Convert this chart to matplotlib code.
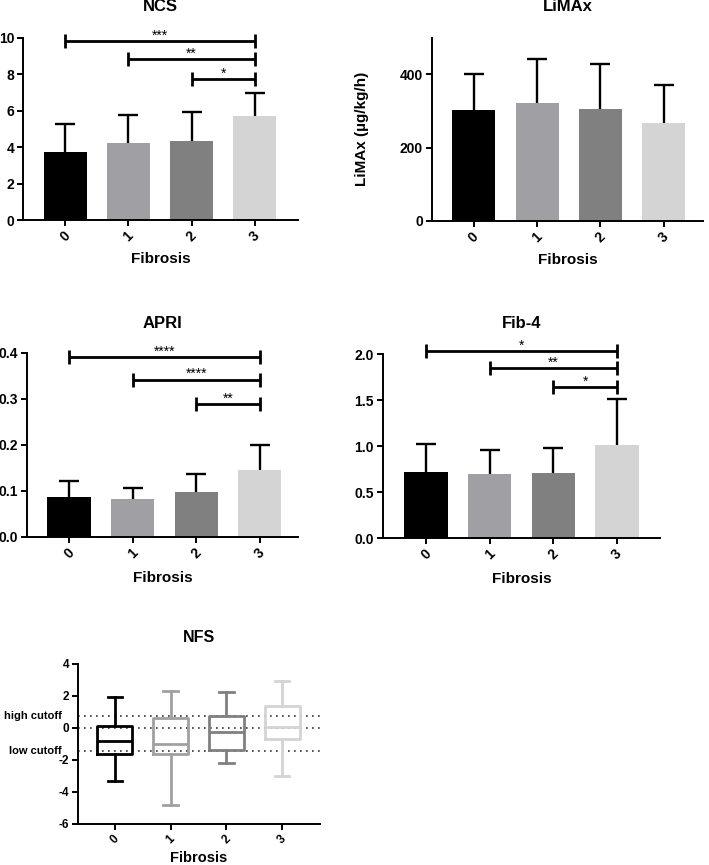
import matplotlib
matplotlib.use("Agg")
import matplotlib.pyplot as plt
import matplotlib.transforms as mtransforms
from matplotlib.ticker import FormatStrFormatter

plt.rcParams['font.family'] = ['Liberation Sans', 'DejaVu Sans']
plt.rcParams['font.weight'] = 'bold'
plt.rcParams['axes.unicode_minus'] = False

# ---------------- data ----------------
groups = ["0", "1", "2", "3"]
colors = ["#000000", "#A0A0A4", "#808080", "#D4D4D4"]

ncs_mean = [3.75, 4.24, 4.35, 5.72]
ncs_sd = [1.52, 1.52, 1.55, 1.23]
ncs_sig = [(0, 3, 9.82, "***"), (1, 3, 8.81, "**"), (2, 3, 7.73, "*")]

limax_mean = [304, 323, 305, 268]
limax_sd = [97, 118, 124, 104]

apri_mean = [0.088, 0.083, 0.097, 0.146]
apri_sd = [0.033, 0.023, 0.041, 0.055]
apri_sig = [(0, 3, 0.391, "****"), (1, 3, 0.342, "****"), (2, 3, 0.289, "**")]

fib4_mean = [0.714, 0.692, 0.707, 1.011]
fib4_sd = [0.304, 0.268, 0.268, 0.499]
fib4_sig = [(0, 3, 2.03, "*"), (1, 3, 1.844, "**"), (2, 3, 1.638, "*")]

nfs_whislo = [-3.34, -4.79, -2.16, -2.99]
nfs_q1 = [-1.62, -1.62, -1.37, -0.70]
nfs_med = [-0.81, -1.00, -0.25, 0.08]
nfs_q3 = [0.12, 0.60, 0.77, 1.37]
nfs_whishi = [1.95, 2.30, 2.26, 2.95]
nfs_high_cutoff = 0.72
nfs_low_cutoff = -1.46

W, H = 709, 865
fig = plt.figure(figsize=(W / 100, H / 100), dpi=100)


def add_ax(l, r, t, b):
    return fig.add_axes([l / W, 1 - b / H, (r - l) / W, (b - t) / H])


def style(ax, title, xlim, title_pad, tsize=10, title_size=12):
    ax.spines['top'].set_visible(False)
    ax.spines['right'].set_visible(False)
    for s in ('left', 'bottom'):
        ax.spines[s].set_linewidth(1.4)
    ax.tick_params(width=1.4, length=4, labelsize=tsize, direction='out', pad=2.5)
    ax.set_xlim(*xlim)
    ax.set_xticks(range(len(groups)))
    ax.set_xticklabels(groups, rotation=45, ha='center', fontweight='bold')
    for lab in ax.get_yticklabels():
        lab.set_fontweight('bold')
    ax.set_title(title, fontsize=title_size, fontweight='bold', pad=title_pad)


def xlabel(ax, offset_px, height_px, size=11):
    ax.set_xlabel("Fibrosis", fontsize=size, fontweight='bold')
    ax.xaxis.set_label_coords(0.5, -offset_px / height_px)


def bars(ax, means, sds, capsize=7.5):
    x = list(range(len(means)))
    _, caplines, _ = ax.errorbar(x, means, yerr=[[0] * len(sds), sds], fmt='none',
                                 ecolor='black', elinewidth=1.7, capsize=capsize,
                                 capthick=1.7, zorder=1)
    if len(caplines) == 2:
        caplines[0].set_visible(False)
    ax.bar(x, means, width=0.68, color=colors, zorder=2)


def brackets(ax, sigs, tick_px, axes_h_px):
    y0, y1 = ax.get_ylim()
    dy = tick_px * (y1 - y0) / axes_h_px
    for a, b, y, txt in sigs:
        ax.plot([a, b], [y, y], color='black', lw=2.0, clip_on=False,
                solid_capstyle='butt', zorder=3)
        for xx in (a, b):
            ax.plot([xx, xx], [y - dy, y + dy], color='black', lw=2.0,
                    clip_on=False, solid_capstyle='butt', zorder=3)
        ax.text((a + b) / 2, y - dy * 0.2, txt, ha='center', va='bottom',
                fontsize=10, fontweight='normal', clip_on=False)


# ---------------- NCS ----------------
ax = add_ax(23.5, 298, 37.7, 220)
bars(ax, ncs_mean, ncs_sd)
ax.set_ylim(0, 10)
ax.set_yticks([0, 2, 4, 6, 8, 10])
style(ax, "NCS", (-0.656, 3.68), 19)
brackets(ax, ncs_sig, 7, 182)
xlabel(ax, 32, 182)

# ---------------- LiMAx ----------------
ax = add_ax(432, 703, 37.7, 221)
bars(ax, limax_mean, limax_sd)
ax.set_ylim(0, 500)
ax.set_yticks([0, 200, 400])
style(ax, "LiMAx", (-0.66, 3.62), 19)
ax.set_ylabel("LiMAx (µg/kg/h)", fontsize=11, fontweight='bold')
ax.yaxis.set_label_coords(-63 / 271, 0.5)
xlabel(ax, 32, 183)

# ---------------- APRI ----------------
ax = add_ax(27, 298, 353, 537)
bars(ax, apri_mean, apri_sd)
ax.set_ylim(0, 0.4)
ax.set_yticks([0, 0.1, 0.2, 0.3, 0.4])
ax.yaxis.set_major_formatter(FormatStrFormatter('%.1f'))
style(ax, "APRI", (-0.66, 3.6), 18)
brackets(ax, apri_sig, 7, 184)
xlabel(ax, 34, 184)

# ---------------- Fib-4 ----------------
ax = add_ax(383, 660, 354, 538)
bars(ax, fib4_mean, fib4_sd)
ax.set_ylim(0, 2.0)
ax.set_yticks([0, 0.5, 1.0, 1.5, 2.0])
ax.yaxis.set_major_formatter(FormatStrFormatter('%.1f'))
style(ax, "Fib-4", (-0.675, 3.675), 19)
brackets(ax, fib4_sig, 7, 184)
xlabel(ax, 34, 184)

# ---------------- NFS ----------------
ax = add_ax(78, 320, 664, 824)
stats = []
for i in range(len(groups)):
    stats.append(dict(whislo=nfs_whislo[i], q1=nfs_q1[i], med=nfs_med[i],
                      q3=nfs_q3[i], whishi=nfs_whishi[i], fliers=[]))
artists = ax.bxp(stats, positions=range(len(groups)), widths=0.63,
                 showfliers=False, patch_artist=False, manage_ticks=False)
for i, c in enumerate(colors):
    artists['boxes'][i].set(color=c, linewidth=2.0)
    artists['medians'][i].set(color=c, linewidth=2.0)
    for k in (2 * i, 2 * i + 1):
        artists['whiskers'][k].set(color=c, linewidth=2.0)
        artists['caps'][k].set(color=c, linewidth=2.0)
        artists['caps'][k].set_xdata([i - 0.13, i + 0.13])
for yv in (nfs_high_cutoff, 0, nfs_low_cutoff):
    ax.axhline(yv, color='#333333', lw=1.2, ls=(0, (1, 2.6)), zorder=0)
ax.set_ylim(-6, 4)
ax.set_yticks([-6, -4, -2, 0, 2, 4])
style(ax, "NFS", (-0.66, 3.68), 16, tsize=8.5, title_size=11.5)
trans = mtransforms.blended_transform_factory(ax.transAxes, ax.transData)
for yv, txt in ((nfs_high_cutoff, "high cutoff"), (nfs_low_cutoff, "low cutoff")):
    ax.text(-16 / 242, yv, txt, transform=trans, ha='right', va='center',
            fontsize=8, fontweight='bold')
xlabel(ax, 27, 160, size=10.5)

fig.savefig("out.png", dpi=100, facecolor='white')
